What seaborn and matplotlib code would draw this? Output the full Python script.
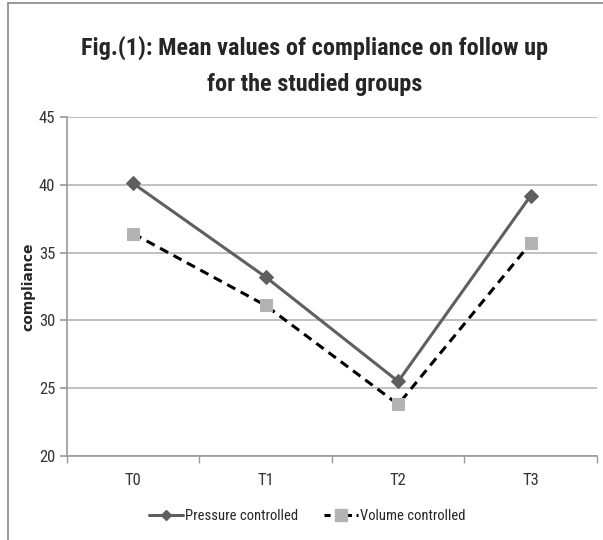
import pandas as pd
import matplotlib.pyplot as plt
import matplotlib.lines as mlines
from matplotlib.ticker import FixedLocator
import seaborn as sns

# valores
tempos = ['T0', 'T1', 'T2', 'T3']
pressure = [40.1, 33.2, 25.5, 39.2]
volume = [36.4, 31.1, 23.8, 35.7]
y_ticks = [20, 25, 30, 35, 40, 45]

df = pd.DataFrame({
    'tempo': tempos * 2,
    'compliance': pressure + volume,
    'grupo': ['Pressure controlled'] * 4 + ['Volume controlled'] * 4,
})

sns.set_theme(style="white")
plt.rcParams['font.family'] = ['Roboto Condensed', 'Liberation Sans', 'DejaVu Sans']

fig = plt.figure(figsize=(6.03, 5.4), dpi=100)
ax = fig.add_axes([0.111, 0.1556, 0.879, 0.6277])

sns.lineplot(data=df[df.grupo == 'Pressure controlled'], x='tempo', y='compliance',
             color='#5f5f5f', linewidth=2.2, marker='D', markersize=7,
             markeredgecolor='#5f5f5f', ax=ax, legend=False)
sns.lineplot(data=df[df.grupo == 'Volume controlled'], x='tempo', y='compliance',
             color='black', linewidth=2.2, linestyle=(0, (3, 2)), marker='s',
             markersize=9, markerfacecolor='#b3b3b3', markeredgecolor='#b3b3b3',
             ax=ax, legend=False)

ax.set_xlim(-0.5, 3.5)
ax.set_ylim(20, 45)
ax.set_yticks(y_ticks)
ax.yaxis.grid(True, color='#b5b5b5', linewidth=1.2)
ax.set_axisbelow(True)
ax.xaxis.set_minor_locator(FixedLocator([-0.5, 0.5, 1.5, 2.5, 3.5]))
ax.tick_params(axis='x', which='major', length=0, pad=12, labelsize=12, labelcolor='#333333')
ax.tick_params(axis='x', which='minor', length=5, color='#9a9a9a', bottom=True)
ax.tick_params(axis='y', length=5, color='#9a9a9a', left=True, labelsize=12, labelcolor='#333333')
for s in ['top', 'right']:
    ax.spines[s].set_visible(False)
for s in ['left', 'bottom']:
    ax.spines[s].set_color('#9a9a9a')
    ax.spines[s].set_linewidth(1.2)

ax.set_xlabel('')
ax.set_ylabel('compliance', fontsize=10, fontweight='bold', family=['DejaVu Sans'], labelpad=2)

fig.text(0.522, 0.878, 'Fig.(1): Mean values of compliance on follow up\nfor the studied groups',
         ha='center', va='center', fontsize=17.5, fontweight='bold', linespacing=1.75)

# legenda embaixo
h1 = mlines.Line2D([], [], color='#5f5f5f', linewidth=2.2, marker='D', markersize=5)
h2 = mlines.Line2D([], [], color='black', linewidth=2.2, linestyle=(0, (2, 1.5)), marker='s',
                   markersize=8, markerfacecolor='#b3b3b3', markeredgecolor='#b3b3b3')
fig.legend([h1, h2], ['Pressure controlled', 'Volume controlled'], loc='center',
           bbox_to_anchor=(0.51, 0.045), ncol=2, frameon=False, fontsize=10.5,
           handlelength=2.3, handletextpad=0.15, columnspacing=1.8)

# moldura
fig.add_artist(mlines.Line2D([8 / 603, 1], [1 - 3 / 540, 1 - 3 / 540], color='#888888', linewidth=1.2))
fig.add_artist(mlines.Line2D([8 / 603, 8 / 603], [0, 1 - 3 / 540], color='#888888', linewidth=1.2))

plt.savefig('out.png', dpi=100)
